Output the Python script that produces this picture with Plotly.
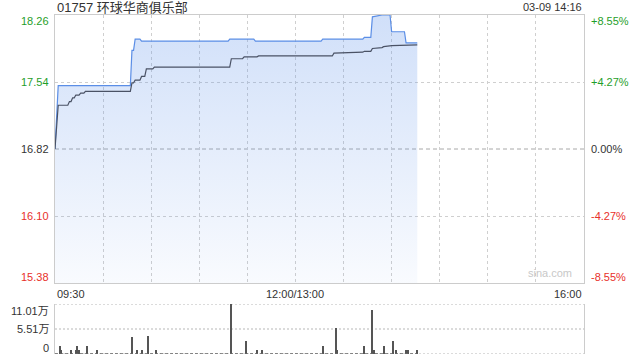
import plotly.graph_objects as go

# ---- data ----
title_text = "01757 环球华商俱乐部"
stamp_text = "03-09 14:16"
prev_close = 16.82
price_ticks = [18.26, 17.54, 16.82, 16.10, 15.38]
pct_ticks = ["+8.55%", "+4.27%", "0.00%", "-4.27%", "-8.55%"]
vol_ticks = [11.01, 5.51, 0]
vol_tick_labels = ["11.01万", "5.51万", "0"]
x_label_vals = [0, 150, 330]
x_label_text = ["09:30", "12:00/13:00", "16:00"]
grid_minutes = [30, 60, 90, 120, 150, 180, 210, 240, 270, 300]

# minutes since 09:30 (lunch break removed)
price_t = [0, 2, 47, 48, 49, 50, 53, 54, 108, 109, 124, 125, 166, 167, 192, 193,
           197, 198, 204, 209, 210, 218, 219, 226]
price_v = [16.82, 17.50, 17.50, 17.88, 17.88, 18.00, 18.00, 17.98, 17.98, 18.00,
           18.00, 17.98, 17.98, 18.00, 18.00, 18.02, 18.02, 18.24, 18.26, 18.26,
           18.08, 18.08, 17.96, 17.96]

avg_t = [0, 2, 8, 9, 10, 11, 12, 13, 15, 16, 18, 19, 47, 48, 49, 50, 53, 54, 56, 57,
         61, 62, 109, 110, 117, 118, 126, 127, 173, 174, 192, 193, 197, 198, 204,
         205, 210, 226]
avg_v = [16.82, 17.29, 17.29, 17.33, 17.33, 17.37, 17.37, 17.40, 17.40, 17.42,
         17.42, 17.44, 17.44, 17.53, 17.53, 17.56, 17.56, 17.60, 17.60, 17.68,
         17.68, 17.70, 17.70, 17.79, 17.79, 17.81, 17.81, 17.82, 17.82, 17.85,
         17.86, 17.87, 17.87, 17.90, 17.91, 17.92, 17.93, 17.94]

vol_t = [3, 4, 10, 13, 14, 15, 20, 26, 48, 51, 54, 58, 63, 110, 119, 126, 129, 167,
         175, 176, 193, 198, 199, 205, 211, 213, 219, 220, 226]
vol_v = [1.80, 0.90, 0.95, 0.95, 1.83, 0.95, 1.83, 0.95, 3.85, 0.95, 0.95, 3.90,
         0.95, 11.01, 2.97, 0.95, 0.95, 1.83, 5.72, 0.90, 1.83, 9.76, 0.95, 1.83,
         2.93, 0.95, 0.95, 0.95, 0.95]

FONT = "Liberation Sans, Arial, Noto Sans CJK SC, sans-serif"
GREEN = "#1f9e2a"
RED = "#e8302a"
DARK = "#333333"
GRID = "#cfcfcf"

fig = go.Figure()

fig.add_trace(go.Scatter(
    x=price_t, y=price_v, mode="lines", fill="tozeroy",
    line=dict(color="#5b8ee6", width=1.2),
    fillgradient=dict(type="vertical", start=price_ticks[-1], stop=price_ticks[0],
                      colorscale=[[0, "rgba(100,150,235,0.04)"], [1, "rgba(100,150,235,0.30)"]]),
    xaxis="x", yaxis="y", hoverinfo="skip"))
fig.add_trace(go.Scatter(
    x=avg_t, y=avg_v, mode="lines", line=dict(color="#4a5265", width=1.2),
    xaxis="x", yaxis="y", hoverinfo="skip"))

# volume baseline (tiny per-minute volumes)
fig.add_trace(go.Scatter(
    x=[price_t[0], price_t[-1]], y=[0, 0], mode="lines",
    line=dict(color="#666666", width=1.5, dash="3px,2px"),
    xaxis="x2", yaxis="y2", hoverinfo="skip"))
fig.add_trace(go.Bar(
    x=vol_t, y=vol_v, width=0.62, marker=dict(color="#555555", line=dict(width=0)),
    xaxis="x2", yaxis="y2", hoverinfo="skip"))

L, R, T, B = 55, 56, 15, 6
H = 360 - T - B
main_bottom = (360 - B - 283) / H
vol_top = (360 - B - 304) / H

fig.update_layout(
    width=640, height=360, margin=dict(l=L, r=R, t=T, b=B),
    paper_bgcolor="white", plot_bgcolor="white", showlegend=False,
    bargap=0,
    font=dict(family=FONT, size=11, color=DARK),
    xaxis=dict(domain=[0, 1], range=[0, 330], tickvals=grid_minutes,
               showticklabels=False, ticks="", showgrid=True, gridcolor=GRID,
               griddash="dot", gridwidth=1, zeroline=False,
               showline=True, linecolor="#cccccc", linewidth=1, mirror=True,
               anchor="y"),
    yaxis=dict(domain=[main_bottom, 1], range=[price_ticks[-1], price_ticks[0]],
               tickvals=[price_ticks[1], price_ticks[3]], showticklabels=False,
               ticks="", showgrid=True, gridcolor=GRID, griddash="dot",
               zeroline=False, showline=True, linecolor="#cccccc", linewidth=1,
               mirror=True, anchor="x"),
    xaxis2=dict(domain=[0, 1], range=[0, 330], showticklabels=False, ticks="",
                showgrid=False, zeroline=False, showline=False, anchor="y2"),
    yaxis2=dict(domain=[0, vol_top], range=[0, vol_ticks[0]], showticklabels=False,
                ticks="", showgrid=False, zeroline=False, showline=True,
                linecolor="#cccccc", linewidth=1, mirror=True, anchor="x2"),
)

shapes = [
    dict(type="line", xref="x domain", yref="y", x0=0, x1=1, y0=prev_close, y1=prev_close,
         line=dict(color="#a8a8a8", width=1, dash="4px,3px"), layer="below"),
]
for v in vol_ticks:
    shapes.append(dict(type="line", xref="x2 domain", yref="y2", x0=0, x1=1, y0=v, y1=v,
                       line=dict(color="#cfcfcf", width=1.5, dash="2px,2px"), layer="below"))
fig.update_layout(shapes=shapes)

ann = []
ann.append(dict(text=title_text, xref="paper", yref="paper", x=0, y=1, yshift=8,
                xanchor="left", yanchor="middle", showarrow=False,
                font=dict(size=13, color=DARK)))
ann.append(dict(text=stamp_text, xref="paper", yref="paper", x=1, y=1, yshift=8,
                xanchor="right", yanchor="middle", showarrow=False,
                font=dict(size=11, color=DARK)))
colors = [GREEN, GREEN, DARK, RED, RED]
shifts = [-6, 0, 0, 0, 6]
for v, p, c, s in zip(price_ticks, pct_ticks, colors, shifts):
    ann.append(dict(text=f"{v:.2f}", xref="paper", yref="y", x=0, y=v, xshift=-4,
                    yshift=s, xanchor="right", yanchor="middle", showarrow=False,
                    font=dict(size=11, color=c)))
    ann.append(dict(text=p, xref="paper", yref="y", x=1, y=v, xshift=5,
                    yshift=s, xanchor="left", yanchor="middle", showarrow=False,
                    font=dict(size=11, color=c)))
for v, t, s in zip(vol_ticks, vol_tick_labels, [-7, 0, 6]):
    ann.append(dict(text=t, xref="paper", yref="y2", x=0, y=v, xshift=-4, yshift=s,
                    xanchor="right", yanchor="middle", showarrow=False,
                    font=dict(size=11, color=DARK)))
anchors = ["left", "center", "right"]
for v, t, a in zip(x_label_vals, x_label_text, anchors):
    ann.append(dict(text=t, xref="x", yref="paper", x=v, y=main_bottom, yshift=-3,
                    xanchor=a, yanchor="top", showarrow=False,
                    font=dict(size=11, color=DARK)))
ann.append(dict(text="sina.com", xref="paper", yref="paper", x=1, y=main_bottom,
                xshift=-10, yshift=2, xanchor="right", yanchor="bottom",
                showarrow=False, font=dict(size=11, color="#c8c8c8")))
fig.update_layout(annotations=ann)

fig.write_html("out.html")
